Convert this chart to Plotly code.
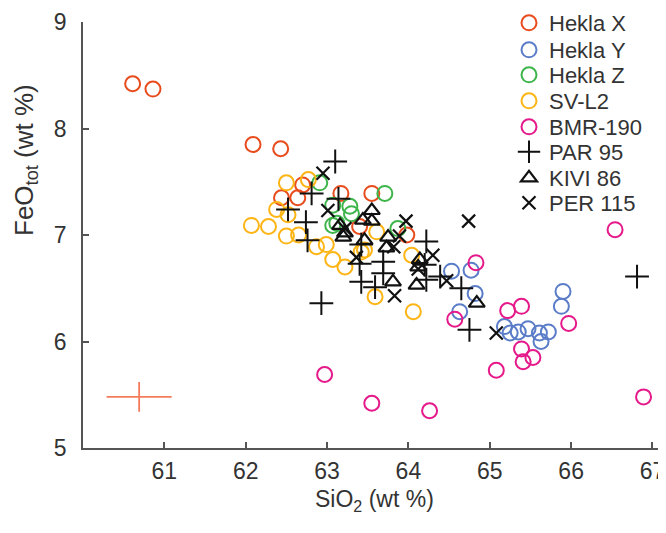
import plotly.graph_objects as go

# ---- data ----
heklaX_x = [60.61, 60.86, 62.09, 62.43, 62.44, 62.64, 62.70, 63.17, 63.55, 63.40, 63.98]
heklaX_y = [8.42, 8.37, 7.85, 7.81, 7.35, 7.35, 7.47, 7.39, 7.39, 7.08, 7.00]

heklaY_x = [64.53, 64.77, 64.82, 64.63, 65.90, 65.88, 65.18, 65.25, 65.35, 65.47, 65.61, 65.72, 65.63]
heklaY_y = [6.66, 6.67, 6.45, 6.28, 6.47, 6.33, 6.14, 6.08, 6.09, 6.12, 6.08, 6.09, 6.00]

heklaZ_x = [62.91, 63.07, 63.07, 63.28, 63.30, 63.71, 63.87, 63.12]
heklaZ_y = [7.49, 7.28, 7.09, 7.27, 7.20, 7.39, 7.06, 7.11]

svl2_x = [62.50, 62.77, 62.38, 62.52, 62.07, 62.28, 62.50, 62.65, 62.87, 62.99, 63.07, 63.22,
          63.61, 63.46, 64.04, 63.59, 64.06, 63.42]
svl2_y = [7.49, 7.52, 7.24, 7.19, 7.09, 7.08, 6.99, 7.00, 6.89, 6.91, 6.77, 6.70,
          7.03, 6.86, 6.81, 6.42, 6.28, 6.84]

bmr_x = [66.54, 64.83, 64.57, 65.22, 65.39, 65.97, 65.39, 65.41, 65.53, 65.08, 66.89, 62.97, 63.55, 64.26]
bmr_y = [7.05, 6.74, 6.21, 6.29, 6.33, 6.17, 5.93, 5.81, 5.85, 5.73, 5.48, 5.69, 5.42, 5.35]

par_x = [63.10, 62.81, 62.52, 62.74, 62.76, 63.14, 62.93, 63.42, 63.40, 63.42, 63.59, 63.69, 63.69,
         64.22, 64.20, 64.22, 64.39, 64.65, 64.75, 66.81]
par_y = [7.69, 7.39, 7.24, 7.12, 6.95, 7.34, 6.36, 6.91, 6.73, 6.56, 6.51, 6.75, 6.64,
         6.94, 6.72, 6.58, 6.61, 6.50, 6.11, 6.61]

kivi_x = [63.55, 63.44, 63.55, 63.16, 63.20, 63.46, 63.75, 63.73, 64.14, 64.12, 64.10, 63.81, 64.84, 63.22]
kivi_y = [7.23, 7.14, 7.13, 7.09, 6.98, 6.95, 6.98, 6.88, 6.77, 6.70, 6.53, 6.56, 6.36, 7.02]

per_x = [62.95, 63.01, 63.22, 63.97, 63.89, 63.82, 64.30, 63.36, 64.12, 63.83, 64.74, 64.47, 65.08]
per_y = [7.58, 7.23, 7.06, 7.13, 6.99, 6.89, 6.81, 6.79, 6.68, 6.43, 7.13, 6.57, 6.08]

err_x, err_y = [60.69], [5.48]
err_dx, err_dy = [0.40], [0.14]

x_ticks = [61, 62, 63, 64, 65, 66, 67]
y_ticks = [5, 6, 7, 8, 9]

FONT = "Liberation Sans, Arial, sans-serif"
TXT = "#333333"
FS = 22

# the page body has an 8px margin; work in page pixels and convert
OFF = 8
PAGE_W, PAGE_H = 666, 533
W, H = PAGE_W - OFF, PAGE_H - 2 * OFF      # keep the page free of scrollbars
X0, X1, Y0, Y1 = 83, 659, 22, 448          # plot area in page pixels
L, R, T, B = X0 - OFF, PAGE_W - X1, Y0 - OFF, (OFF + H) - Y1
PW, PH = X1 - X0, Y1 - Y0

def px(xp):
    return (xp - X0) / PW

def py(yp):
    return (Y1 - yp) / PH

fig = go.Figure()

legend_rows = [23, 50, 75, 101, 127, 152, 178, 203]   # page-pixel centres of legend rows
legend_names = []

def add(x, y, name, marker):
    idx = len(legend_names)
    lg = "legend" if idx == 0 else f"legend{idx + 1}"
    legend_names.append(lg)
    fig.add_trace(go.Scatter(x=x, y=y, mode="markers", name=name, legend=lg, marker=marker))

def circ(color):
    return dict(symbol="circle-open", size=15, color=color, line=dict(width=2, color=color))

add(heklaX_x, heklaX_y, "Hekla X", circ("#E84B1C"))
add(heklaY_x, heklaY_y, "Hekla Y", circ("#5B7DC8"))
add(heklaZ_x, heklaZ_y, "Hekla Z", circ("#3DB54A"))
add(svl2_x, svl2_y, "SV-L2", circ("#FDB515"))
add(bmr_x, bmr_y, "BMR-190", circ("#E5198A"))
add(par_x, par_y, "PAR 95", dict(symbol="cross-thin-open", size=17, color="#111111",
                                 line=dict(width=2, color="#111111")))
add(kivi_x, kivi_y, "KIVI 86", dict(symbol="triangle-up-open", size=14, color="#111111",
                                    line=dict(width=2.2, color="#111111")))
add(per_x, per_y, "PER 115", dict(symbol="x-thin-open", size=13, color="#111111",
                                  line=dict(width=2.2, color="#111111")))

fig.add_trace(go.Scatter(x=err_x, y=err_y, mode="markers", showlegend=False,
                         marker=dict(size=1, color="rgba(0,0,0,0)"),
                         error_x=dict(type="data", array=err_dx, color="#F47C5C", thickness=1.8, width=0),
                         error_y=dict(type="data", array=err_dy, color="#F47C5C", thickness=1.8, width=0)))

axis_common = dict(showline=True, linecolor="#555555", linewidth=1.5, ticks="inside", ticklen=6,
                   tickcolor="#555555", tickwidth=1.5, showgrid=False, zeroline=False,
                   automargin=False, tickfont=dict(family=FONT, size=23, color=TXT))

fig.update_xaxes(range=[60, 67.08], tickvals=x_ticks, ticklabelstandoff=2, **axis_common)
fig.update_yaxes(range=[5, 9], tickvals=y_ticks, ticklabelstandoff=10, **axis_common)

layout_legends = {}
for lg, yc in zip(legend_names, legend_rows):
    layout_legends[lg] = dict(x=px(509), y=py(yc), xanchor="left", yanchor="middle",
                              bgcolor="rgba(0,0,0,0)", borderwidth=0,
                              font=dict(family=FONT, size=FS, color=TXT))

fig.update_layout(
    width=W, height=H,
    margin=dict(l=L, r=R, t=T, b=B, autoexpand=False),
    plot_bgcolor="white", paper_bgcolor="white",
    showlegend=True,
    annotations=[
        dict(text="SiO<sub>2</sub> (wt %)", xref="paper", yref="paper", x=px(374), y=py(501),
             xanchor="center", yanchor="middle", showarrow=False,
             font=dict(family=FONT, size=23, color=TXT)),
        dict(text="FeO<sub>tot</sub> (wt %)", xref="paper", yref="paper", x=px(25), y=py(160),
             xanchor="center", yanchor="middle", textangle=-90, showarrow=False,
             font=dict(family=FONT, size=26, color=TXT)),
    ],
    **layout_legends,
)

fig.write_html("out.html")
